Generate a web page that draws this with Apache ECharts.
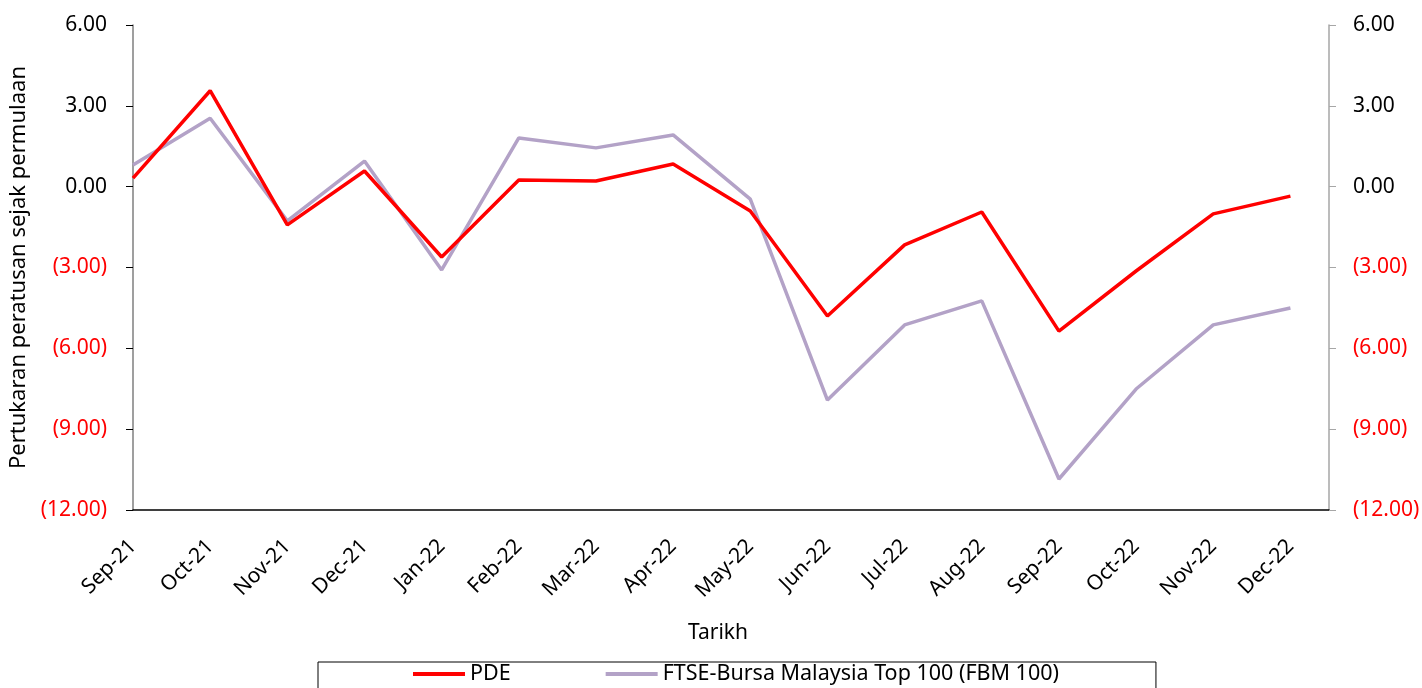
<!DOCTYPE html>
<html>
<head>
<meta charset="utf-8">
<script src="https://cdn.jsdelivr.net/npm/echarts@6/dist/echarts.min.js"></script>
<style>
html,body{margin:0;padding:0;background:#fff;}
#c{width:1422px;height:688px;}
</style>
</head>
<body>
<div id="c"></div>
<script>
const categories = ['Sep-21','Oct-21','Nov-21','Dec-21','Jan-22','Feb-22','Mar-22','Apr-22','May-22','Jun-22','Jul-22','Aug-22','Sep-22','Oct-22','Nov-22','Dec-22'];
const pde = [0.32, 3.56, -1.42, 0.58, -2.61, 0.25, 0.21, 0.84, -0.90, -4.80, -2.16, -0.94, -5.36, -3.13, -1.01, -0.35];
const fbm100 = [0.80, 2.54, -1.27, 0.95, -3.09, 1.81, 1.44, 1.92, -0.46, -7.92, -5.13, -4.24, -10.85, -7.51, -5.13, -4.50];
const seriesNames = ['PDE', 'FTSE-Bursa Malaysia Top 100 (FBM 100)'];
const yMin = -12, yMax = 6, yStep = 3;

const FONT = 'Noto Sans';
function fmt(v){
  if (v < 0) return '{n|(' + Math.abs(v).toFixed(2) + ')}';
  return '{p|' + v.toFixed(2) + '}';
}
const rich = { n:{color:'#FF0000', fontSize:21, fontFamily:FONT}, p:{color:'#000', fontSize:21, fontFamily:FONT} };

const chart = echarts.init(document.getElementById('c'));
chart.setOption({
  animation:false,
  backgroundColor:'#fff',
  grid:{left:133, right:93, top:25, bottom:178, containLabel:false, outerBoundsMode:'none'},
  legend:{
    data:seriesNames,
    left:318, top:662,
    padding:[1,97,30,95],
    borderColor:'#000', borderWidth:1,
    itemGap:95, itemWidth:52, itemHeight:4, icon:'rect',
    textStyle:{fontFamily:FONT, fontSize:21.5, color:'#000'}
  },
  xAxis:{
    type:'value', min:0, max:categories.length - 0.5, interval:1,
    name:'Tarikh', nameLocation:'middle', nameGap:113,
    nameTextStyle:{fontFamily:FONT, fontSize:21, color:'#000', padding:[0,26,0,0]},
    axisLine:{show:true, onZero:false, lineStyle:{color:'#000', width:1.5}},
    axisTick:{show:false},
    splitLine:{show:false},
    axisLabel:{
      rotate:45, margin:33, fontFamily:FONT, fontSize:21, color:'#000',
      showMaxLabel:false,
      formatter:function(v){ return Number.isInteger(v) ? categories[v] : ''; }
    }
  },
  yAxis:[
    {
      type:'value', min:yMin, max:yMax, interval:yStep, position:'left',
      name:'Pertukaran peratusan sejak permulaan', nameLocation:'middle', nameGap:101,
      nameTextStyle:{fontFamily:FONT, fontSize:22, color:'#000'},
      axisLine:{show:true, lineStyle:{color:'#7f7f7f', width:1.5}},
      axisTick:{show:true, length:7, lineStyle:{color:'#000'}},
      splitLine:{show:false},
      axisLabel:{margin:26, formatter:fmt, rich:rich}
    },
    {
      type:'value', min:yMin, max:yMax, interval:yStep, position:'right',
      axisLine:{show:true, lineStyle:{color:'#a6a6a6', width:1.5}},
      axisTick:{show:true, length:7, lineStyle:{color:'#a6a6a6'}},
      splitLine:{show:false},
      axisLabel:{margin:24, formatter:fmt, rich:rich}
    }
  ],
  series:[
    {
      name:seriesNames[0], type:'line', yAxisIndex:0,
      data:pde.map((v,i)=>[i,v]),
      showSymbol:false, symbol:'none',
      lineStyle:{color:'#FF0000', width:3.5}, itemStyle:{color:'#FF0000'}, z:3
    },
    {
      name:seriesNames[1], type:'line', yAxisIndex:0,
      data:fbm100.map((v,i)=>[i,v]),
      showSymbol:false, symbol:'none',
      lineStyle:{color:'#B3A2C7', width:3.5}, itemStyle:{color:'#B3A2C7'}, z:2
    }
  ]
});
</script>
</body>
</html>
